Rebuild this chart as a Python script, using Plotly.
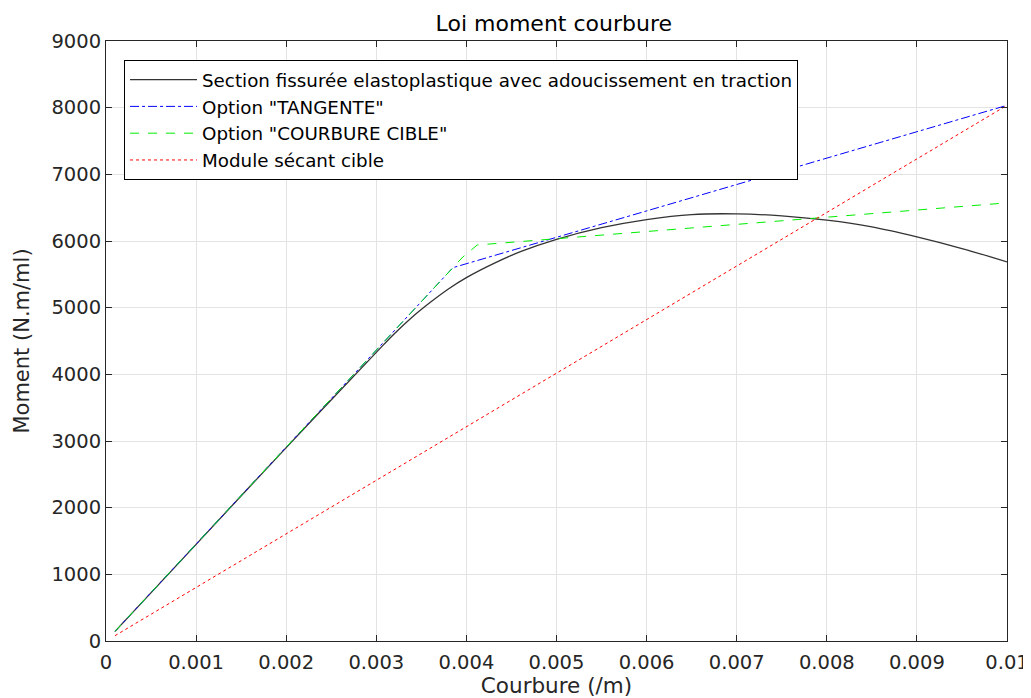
import plotly.graph_objects as go

# Black: section fissurée
curv_section = [0.0001, 0.001, 0.002, 0.003, 0.0032, 0.0034, 0.0036, 0.0038, 0.004, 0.0043, 0.0046,
                0.005, 0.0055, 0.006, 0.0065, 0.007, 0.0075, 0.008, 0.0085, 0.009, 0.0095, 0.01]
mom_section = [145, 1450, 2900, 4330, 4610, 4860, 5080, 5280, 5450, 5660, 5840,
               6025, 6200, 6322, 6397, 6407, 6377, 6312, 6212, 6062, 5887, 5687]

# Blue: option TANGENTE
curv_tangente = [0.0001, 0.00385, 0.01]
mom_tangente = [145, 5600, 8035]

# Green: option COURBURE CIBLE
curv_cible = [0.0001, 0.00396, 0.00412, 0.01]
mom_cible = [145, 5760, 5940, 6572]

# Red: module sécant cible
curv_secant = [0.0001, 0.01]
mom_secant = [80, 8035]

x_ticks = [0, 0.001, 0.002, 0.003, 0.004, 0.005, 0.006, 0.007, 0.008, 0.009, 0.01]
x_ticklabels = ["0", "0.001", "0.002", "0.003", "0.004", "0.005", "0.006", "0.007", "0.008", "0.009", "0.01"]
y_ticks = [0, 1000, 2000, 3000, 4000, 5000, 6000, 7000, 8000, 9000]

FONT = "DejaVu Sans"

fig = go.Figure()
fig.add_trace(go.Scatter(x=curv_section, y=mom_section, mode="lines", line=dict(color="#333333", width=1.3),
                         line_shape="spline",
                         name="Section fissurée elastoplastique avec adoucissement en traction"))
fig.add_trace(go.Scatter(x=curv_tangente, y=mom_tangente, mode="lines", line=dict(color="#0000ff", width=1, dash="dashdot"),
                         name='Option "TANGENTE"'))
fig.add_trace(go.Scatter(x=curv_cible, y=mom_cible, mode="lines", line=dict(color="#00ee00", width=1, dash="dash"),
                         name='Option "COURBURE CIBLE"'))
fig.add_trace(go.Scatter(x=curv_secant, y=mom_secant, mode="lines", line=dict(color="#ff0000", width=1, dash="dot"),
                         name="Module sécant cible"))

axis_common = dict(showline=True, linecolor="#262626", linewidth=1, mirror="ticks",
                   ticks="inside", ticklen=6, tickcolor="#262626", automargin=False,
                   showgrid=True, gridcolor="#e3e3e3", gridwidth=1, zeroline=False,
                   tickfont=dict(family=FONT, size=19.5, color="#262626"))

# page body has an 8px margin: the figure is laid out at (8, 8)
W, H = 1023, 690

fig.update_layout(
    width=W, height=H,
    paper_bgcolor="white", plot_bgcolor="white",
    margin=dict(l=98, r=24, t=33, b=57),
    title=dict(text="Loi moment courbure", x=0.497, xanchor="center", xref="paper",
               y=1 - 15 / H, yanchor="middle",
               font=dict(family=FONT, size=22, color="black")),
    xaxis=dict(range=[0, 0.01], tickvals=x_ticks, ticktext=x_ticklabels, ticklabelstandoff=4,
               title=dict(text="Courbure (/m)", font=dict(family=FONT, size=21.5, color="#262626"), standoff=10),
               **axis_common),
    yaxis=dict(range=[0, 9000], tickvals=y_ticks,
               title=dict(text="Moment (N.m/ml)", font=dict(family=FONT, size=21, color="#262626"), standoff=16),
               **axis_common),
    legend=dict(x=0.02, y=0.968, xanchor="left", yanchor="top",
                bgcolor="white", bordercolor="black", borderwidth=1, itemwidth=67,
                font=dict(family=FONT, size=18.3, color="black"), tracegroupgap=0),
    showlegend=True,
)

fig.write_html("out.html")
